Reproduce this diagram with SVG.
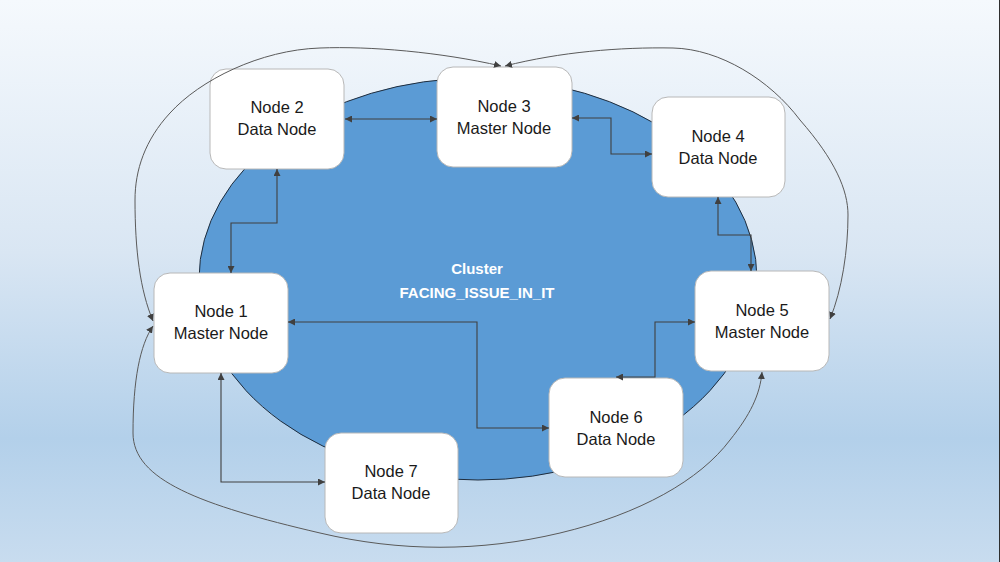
<svg xmlns="http://www.w3.org/2000/svg" width="1000" height="562" viewBox="0 0 1000 562">
<defs>
<linearGradient id="bg" x1="0" y1="0" x2="0" y2="1">
<stop offset="0" stop-color="#f5f9fd"/>
<stop offset="0.45" stop-color="#d9e6f3"/>
<stop offset="0.78" stop-color="#b3d0ea"/>
<stop offset="1" stop-color="#c8dcef"/>
</linearGradient>
<marker id="ah" viewBox="0 0 10 10" refX="10" refY="5" markerWidth="7" markerHeight="7" markerUnits="userSpaceOnUse" orient="auto-start-reverse">
<path d="M0,0 L10,5 L0,10 z" fill="#404040"/>
</marker>
<style>
.node rect{fill:#ffffff;stroke:#b8b8b8;stroke-width:1}
.node text{font-family:"Liberation Sans",Arial,sans-serif;font-size:16.5px;fill:#1a1a1a;text-anchor:middle}
.conn path{fill:none;stroke:#404040;stroke-width:1.1;marker-start:url(#ah);marker-end:url(#ah)}
.conn path.curve{stroke:#5a5a5a;stroke-width:1}
.title{font-family:"Liberation Sans",Arial,sans-serif;font-size:15px;font-weight:bold;fill:#ffffff;text-anchor:middle}
</style>
</defs>
<rect x="0" y="0" width="1000" height="562" fill="url(#bg)"/>
<line x1="999.5" y1="0" x2="999.5" y2="562" stroke="#2e2e2e" stroke-width="1"/>
<g id="cluster">
<ellipse cx="478" cy="279" rx="279" ry="201" fill="#5b9bd5" stroke="#1f2d3d" stroke-width="1"/>
<text class="title" x="477" y="274">Cluster</text>
<text class="title" x="477" y="298">FACING_ISSUE_IN_IT</text>
</g>
<g id="node1" class="node"><rect x="154" y="273" width="134" height="100" rx="16"/><text x="221" y="317">Node 1</text><text x="221" y="339">Master Node</text></g>
<g id="node2" class="node"><rect x="210" y="69" width="134" height="100" rx="16"/><text x="277" y="113">Node 2</text><text x="277" y="135">Data Node</text></g>
<g id="node3" class="node"><rect x="437" y="67" width="135" height="100" rx="16"/><text x="504" y="112">Node 3</text><text x="504" y="134">Master Node</text></g>
<g id="node4" class="node"><rect x="652" y="97" width="133" height="100" rx="16"/><text x="718" y="142">Node 4</text><text x="718" y="164">Data Node</text></g>
<g id="node5" class="node"><rect x="695" y="271" width="134" height="100" rx="16"/><text x="762" y="316">Node 5</text><text x="762" y="338">Master Node</text></g>
<g id="node6" class="node"><rect x="549" y="378" width="134" height="99" rx="16"/><text x="616" y="423">Node 6</text><text x="616" y="445">Data Node</text></g>
<g id="node7" class="node"><rect x="325" y="433" width="133" height="100" rx="16"/><text x="391" y="477">Node 7</text><text x="391" y="499">Data Node</text></g>
<g id="connectors" class="conn">
<path d="M345 119 H437"/>
<path d="M572 118 H611 V154 H652"/>
<path d="M718 197 V235 H751 V271"/>
<path d="M277 169 V223 H231 V273"/>
<path d="M288 322 H477 V428 H549"/>
<path d="M221 373 V482 H325"/>
<path d="M616 377 H655 V322 H695"/>
<path class="curve" d="M501 66 C440 52,370 46,320 48 C260 50,200 80,170 113 C145 140,135 170,135 200 C135 250,140 290,153 321"/>
<path class="curve" d="M505 66 C560 52,620 47,673 48 C720 49,770 80,800 120 C835 160,848 190,848 215 C848 250,842 290,830 319"/>
<path class="curve" d="M153 326 C140 345,133 380,133 433 C133 480,200 505,320 533 C400 552,480 552,560 533 C640 514,700 480,730 440 C750 415,760 395,762 372"/>
</g>
</svg>
